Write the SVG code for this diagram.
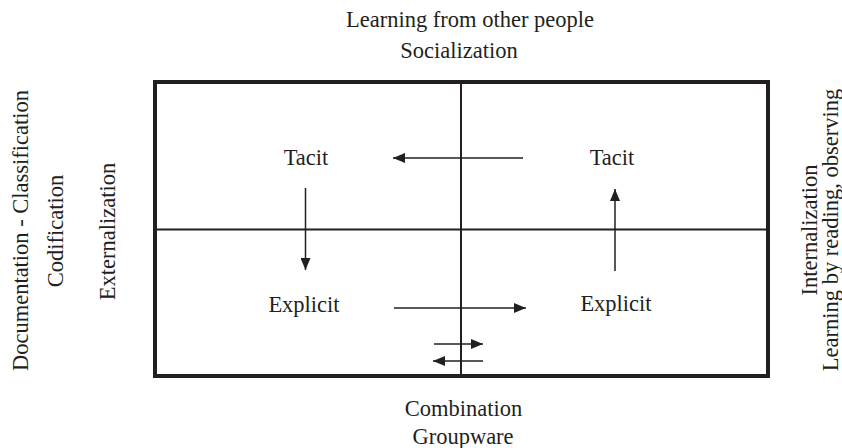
<svg xmlns="http://www.w3.org/2000/svg" width="842" height="448" viewBox="0 0 842 448">
<style>
text{font-family:"Liberation Serif","Times New Roman",serif;font-size:22.5px;fill:#231f20;text-anchor:middle}
.ln{stroke:#231f20;stroke-width:1.5;fill:none}
</style>
<defs>
<marker id="ah" viewBox="0 0 12 10" refX="12" refY="5" markerWidth="12" markerHeight="10" markerUnits="userSpaceOnUse" orient="auto">
<path d="M0,0 L12,5 L0,10 Z" fill="#231f20"/>
</marker>
</defs>
<rect width="842" height="448" fill="#fff"/>
<g id="frame">
<rect x="155" y="82" width="613" height="294" fill="none" stroke="#231f20" stroke-width="4"/>
<line x1="461" y1="82" x2="461" y2="376" stroke="#231f20" stroke-width="2"/>
<line x1="155" y1="229.5" x2="768" y2="229.5" stroke="#231f20" stroke-width="2"/>
</g>
<g id="labels">
<text x="470" y="27">Learning from other people</text>
<text x="459" y="58">Socialization</text>
<text x="463.5" y="416">Combination</text>
<text x="463" y="444">Groupware</text>
<text transform="translate(28,230.5) rotate(-90)">Documentation - Classification</text>
<text transform="translate(63,231) rotate(-90)">Codification</text>
<text transform="translate(115,231.5) rotate(-90)">Externalization</text>
<text transform="translate(817,230) rotate(-90)">Internalization</text>
<text transform="translate(838,230) rotate(-90)">Learning by reading, observing</text>
</g>
<g id="tacit-left"><text x="306" y="165">Tacit</text></g>
<g id="tacit-right"><text x="612" y="165">Tacit</text></g>
<g id="explicit-left"><text x="304" y="311.5">Explicit</text></g>
<g id="explicit-right"><text x="616" y="311">Explicit</text></g>
<g id="connectors">
<line class="ln" x1="523" y1="158" x2="393" y2="158" marker-end="url(#ah)"/>
<line class="ln" x1="305.5" y1="188" x2="305.5" y2="270" marker-end="url(#ah)"/>
<line class="ln" x1="615" y1="271" x2="615" y2="189" marker-end="url(#ah)"/>
<line class="ln" x1="394" y1="308" x2="526" y2="308" marker-end="url(#ah)"/>
<line class="ln" x1="434" y1="344" x2="483" y2="344" marker-end="url(#ah)"/>
<line class="ln" x1="483" y1="361" x2="433" y2="361" marker-end="url(#ah)"/>
</g>
</svg>
